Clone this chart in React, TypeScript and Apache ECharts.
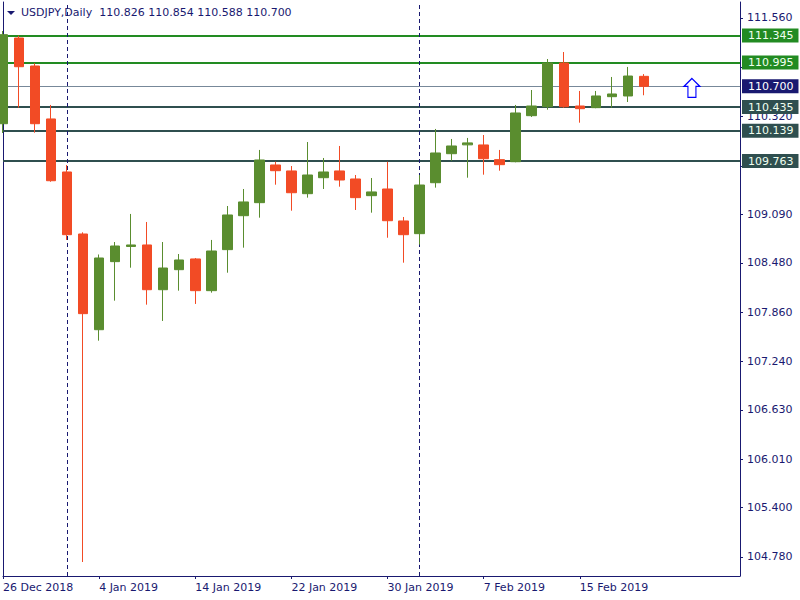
import React, { useEffect, useRef } from "react";
import * as echarts from "echarts";

const dates = [
  "26 Dec 2018", "27 Dec 2018", "28 Dec 2018", "31 Dec 2018", "2 Jan 2019", "3 Jan 2019", "4 Jan 2019",
  "7 Jan 2019", "8 Jan 2019", "9 Jan 2019", "10 Jan 2019", "11 Jan 2019", "14 Jan 2019", "15 Jan 2019",
  "16 Jan 2019", "17 Jan 2019", "18 Jan 2019", "21 Jan 2019", "22 Jan 2019", "23 Jan 2019", "24 Jan 2019",
  "25 Jan 2019", "28 Jan 2019", "29 Jan 2019", "30 Jan 2019", "31 Jan 2019", "1 Feb 2019", "4 Feb 2019",
  "5 Feb 2019", "6 Feb 2019", "7 Feb 2019", "8 Feb 2019", "11 Feb 2019", "12 Feb 2019", "13 Feb 2019",
  "14 Feb 2019", "15 Feb 2019", "18 Feb 2019", "19 Feb 2019", "20 Feb 2019", "21 Feb 2019",
];
const futureDates = ["22 Feb 2019", "25 Feb 2019", "26 Feb 2019", "27 Feb 2019", "28 Feb 2019", "1 Mar 2019"];

const opens = [
  110.23, 111.308, 110.956, 110.29, 109.623, 108.843, 107.639, 108.495, 108.686, 108.705, 108.142,
  108.394, 108.529, 108.13, 108.646, 109.073, 109.237, 109.711, 109.636, 109.35, 109.551, 109.636,
  109.535, 109.325, 109.409, 109.007, 108.847, 109.488, 109.853, 109.964, 109.963, 109.778, 109.752,
  110.331, 110.444, 110.994, 110.453, 110.432, 110.57, 110.579, 110.826,
];
const closes = [
  111.35, 110.947, 110.23, 109.513, 108.834, 107.841, 108.541, 108.692, 108.705, 108.142, 108.415,
  108.516, 108.13, 108.629, 109.082, 109.246, 109.774, 109.639, 109.362, 109.585, 109.623, 109.522,
  109.3, 109.372, 109.01, 108.834, 109.459, 109.862, 109.95, 109.989, 109.79, 109.715, 110.365,
  110.453, 110.994, 110.444, 110.419, 110.579, 110.604, 110.83, 110.7,
];
const lows = [
  110.113, 110.432, 110.117, 109.5, 108.768, 104.717, 107.501, 108.004, 108.419, 107.954, 107.749,
  108.13, 107.963, 108.105, 108.356, 108.671, 109.048, 109.463, 109.136, 109.3, 109.409, 109.438,
  109.145, 109.111, 108.796, 108.482, 108.709, 109.426, 109.765, 109.551, 109.589, 109.639, 109.745,
  110.315, 110.407, 110.43, 110.243, 110.425, 110.432, 110.503, 110.588,
];
const highs = [
  111.396, 111.337, 110.99, 110.466, 109.711, 108.864, 108.585, 108.742, 109.095, 108.994, 108.742,
  108.591, 108.541, 108.768, 109.195, 109.409, 109.9, 109.752, 109.698, 110.0, 109.799, 109.95,
  109.585, 109.547, 109.752, 109.057, 109.585, 110.164, 110.038, 110.051, 110.088, 109.9, 110.466,
  110.654, 111.044, 111.132, 110.642, 110.642, 110.818, 110.944, 110.854,
];

const resistanceLevels = [111.345, 110.995];
const currentPrice = 110.7;
const supportLevels = [110.435, 110.139, 109.763];
const separatorDates = ["2 Jan 2019", "1 Feb 2019"];
const signalPoint: [string, number] = ["26 Feb 2019", 110.68];

const yTickValues = [111.56, 110.94, 110.32, 109.7, 109.09, 108.48, 107.86, 107.24, 106.63, 106.01, 105.4, 104.78];
const yLabelValues = [111.56, 110.32, 109.09, 108.48, 107.86, 107.24, 106.63, 106.01, 105.4, 104.78];
const headerSymbol = "USDJPY,Daily";
const headerOHLC = ["110.826", "110.854", "110.588", "110.700"];

const NAVY = "#191970";
const FONT = "DejaVu Sans";
const Y_MIN = 104.541;
const Y_MAX = 111.761;

export default function App() {
  const ref = useRef<HTMLDivElement>(null);

  useEffect(() => {
    if (!ref.current) return;
    const chart = echarts.init(ref.current, null, { renderer: "svg" });
    const categories = dates.concat(futureDates);
    const candleData = dates.map((_, i) => [opens[i], closes[i], lows[i], highs[i]]);

    const levelLabel = (bg: string, fg: string) => ({
      show: true,
      position: "end",
      distance: 2,
      formatter: "{b}",
      backgroundColor: bg,
      color: fg,
      fontFamily: FONT,
      fontSize: 11,
      lineHeight: 12,
      padding: [1, 5, 1, 6],
    });

    const markData: any[] = [];
    resistanceLevels.forEach((v) =>
      markData.push({
        name: v.toFixed(3),
        yAxis: v,
        lineStyle: { color: "#228b22", width: 2, type: "solid" },
        label: levelLabel("#228b22", "#f0fff0"),
      })
    );
    markData.push({
      name: currentPrice.toFixed(3),
      yAxis: currentPrice,
      lineStyle: { color: "#778899", width: 1, type: "solid" },
      label: levelLabel(NAVY, "#ffffff"),
    });
    supportLevels.forEach((v) =>
      markData.push({
        name: v.toFixed(3),
        yAxis: v,
        lineStyle: { color: "#2f4f4f", width: 2, type: "solid" },
        label: levelLabel("#2f4f4f", "#f0fff0"),
      })
    );
    separatorDates.forEach((d) =>
      markData.push({
        xAxis: d,
        lineStyle: { color: NAVY, width: 1, type: [4, 3] },
        label: { show: false },
      })
    );

    const showIdx = (i: number) => i % 6 === 0 && i <= 36;

    chart.setOption({
      animation: false,
      backgroundColor: "#ffffff",
      textStyle: { fontFamily: FONT },
      title: {
        left: 21,
        top: 7,
        padding: 0,
        text: headerSymbol + "  " + headerOHLC.join(" "),
        textStyle: { fontFamily: FONT, fontSize: 11, fontWeight: "normal", color: NAVY },
      },
      graphic: [
        {
          type: "polygon",
          shape: { points: [[7, 11], [15, 11], [11, 15]] },
          style: { fill: NAVY },
        },
      ],
      grid: { left: 3, right: 60, top: 2, bottom: 24 },
      xAxis: {
        type: "category",
        data: categories,
        boundaryGap: false,
        axisLine: { show: true, lineStyle: { color: NAVY, width: 1 } },
        axisTick: { show: true, inside: false, length: 3, interval: (i: number) => showIdx(i), lineStyle: { color: NAVY } },
        axisLabel: {
          show: true,
          interval: (i: number) => showIdx(i),
          align: "left",
          margin: 6,
          color: NAVY,
          fontFamily: FONT,
          fontSize: 11,
        },
        splitLine: { show: false },
      },
      yAxis: [
        {
          type: "value",
          position: "right",
          min: Y_MIN,
          max: Y_MAX,
          axisLine: { show: true, lineStyle: { color: NAVY, width: 1 } },
          axisTick: { show: true, length: 3, customValues: yTickValues, lineStyle: { color: NAVY } },
          axisLabel: {
            show: true,
            customValues: yLabelValues,
            margin: 7,
            color: NAVY,
            fontFamily: FONT,
            fontSize: 11,
            formatter: (v: number) => v.toFixed(3),
          },
          splitLine: { show: false },
        },
        {
          type: "value",
          position: "left",
          min: Y_MIN,
          max: Y_MAX,
          axisLine: { show: true, lineStyle: { color: NAVY, width: 1 } },
          axisTick: { show: false },
          axisLabel: { show: false },
          splitLine: { show: false },
        },
      ],
      series: [
        {
          type: "line",
          data: [],
          z: 1,
          silent: true,
          markLine: {
            z: 1,
            silent: true,
            symbol: ["none", "none"],
            animation: false,
            data: markData,
          },
        },
        {
          type: "candlestick",
          z: 3,
          barWidth: 10,
          data: candleData,
          itemStyle: {
            color: "#5a8d2f",
            color0: "#f24b25",
            borderColor: "#5a8d2f",
            borderColor0: "#f24b25",
            borderWidth: 1,
          },
        },
        {
          type: "scatter",
          z: 4,
          data: [signalPoint],
          symbol: "path://M8,0 L16,8 L12,8 L12,19 L4,19 L4,8 L0,8 Z",
          symbolSize: [16, 19],
          itemStyle: { color: "#ffffff", borderColor: "#0000ff", borderWidth: 1.2, opacity: 1 },
          silent: true,
        },
      ],
    });

    return () => chart.dispose();
  }, []);

  return (
    <div
      ref={ref}
      style={{ position: "fixed", left: 0, top: 0, width: 800, height: 600, background: "#fff" }}
    />
  );
}
